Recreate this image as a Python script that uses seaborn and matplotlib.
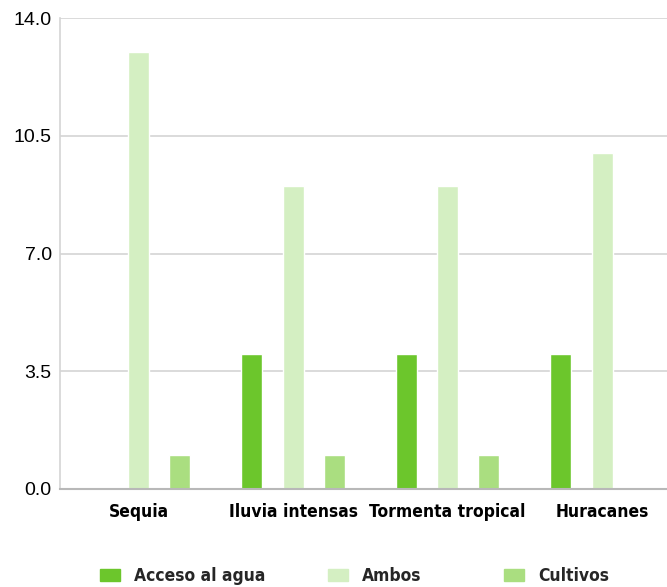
import pandas as pd
import matplotlib.pyplot as plt
import seaborn as sns

# data
categorias = ['Sequia', 'Iluvia intensas', 'Tormenta tropical', 'Huracanes']
series = ['Acceso al agua', 'Ambos', 'Cultivos']
acceso = [0, 4, 4, 4]
ambos = [13, 9, 9, 10]
cultivos = [1, 1, 1, 0]
colores = ['#6cc62c', '#d4efc2', '#aade80']

df = pd.DataFrame({
    'cat': categorias * 3,
    'serie': [series[0]] * 4 + [series[1]] * 4 + [series[2]] * 4,
    'valor': acceso + ambos + cultivos,
})

sns.set_style('white')
plt.rcParams['font.family'] = ['Liberation Sans', 'DejaVu Sans']

fig = plt.figure(figsize=(6.67, 5.87), dpi=100)
ax = fig.add_axes([0.09, 0.167, 0.925, 0.802])

sns.barplot(data=df, x='cat', y='valor', hue='serie', palette=colores,
            width=0.8, gap=0.49, ax=ax, legend=False, saturation=1)

ax.set_ylim(0, 14)
ax.set_xlim(-0.508, 3.485)
ax.set_yticks([0, 3.5, 7, 10.5, 14])
ax.set_yticklabels(['0.0', '3.5', '7.0', '10.5', '14.0'], fontsize=14, color='black')
ax.yaxis.grid(True, color='#d4d4d4', linewidth=1.2)
ax.set_axisbelow(True)
ax.set_xlabel('')
ax.set_ylabel('')
ax.tick_params(axis='y', length=0, pad=6)
ax.tick_params(axis='x', length=0, pad=10)
etiqueta = dict(family='DejaVu Sans', stretch='condensed', weight='bold', size=12.5)
for lab in ax.get_xticklabels():
    lab.set_fontproperties(etiqueta)
    lab.set_color('black')

for s in ['top', 'right']:
    ax.spines[s].set_visible(False)
ax.spines['left'].set_color('#d4d4d4')
ax.spines['left'].set_linewidth(1.2)
ax.spines['bottom'].set_color('#b8b8b8')
ax.spines['bottom'].set_linewidth(1.5)

# legend entries placed one by one, like the reference
x_leyenda = [0.15, 0.492, 0.756]
for nombre, color, xl in zip(series, colores, x_leyenda):
    fig.legend([plt.Rectangle((0, 0), 1, 1, color=color)], [nombre],
               loc='center left', bbox_to_anchor=(xl, 0.018),
               frameon=False, handlelength=1.15, handleheight=0.7,
               handletextpad=0.8, borderpad=0, borderaxespad=0,
               prop=etiqueta)

fig.savefig('out.png', dpi=100)
